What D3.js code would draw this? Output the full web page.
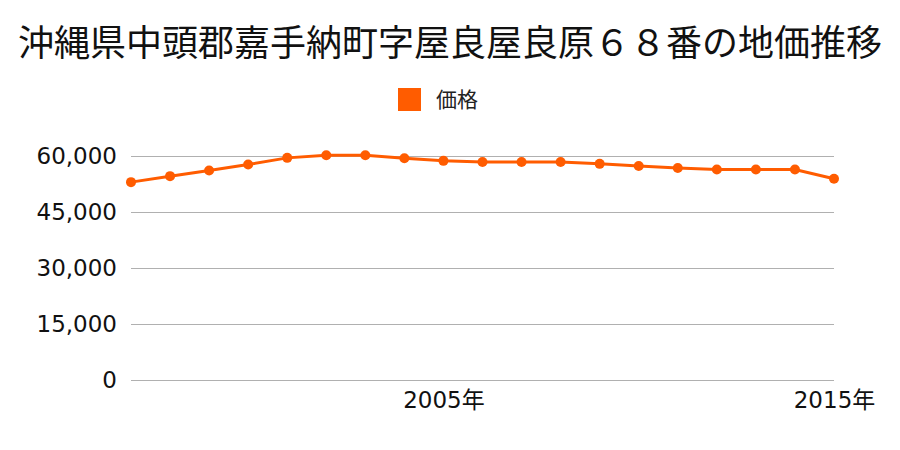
<!doctype html>
<html lang="ja">
<head>
<meta charset="utf-8" />
<title>地価推移</title>
<style>
  body { margin: 0; background: #fff; }
  svg { font-family: "Noto Sans CJK JP", sans-serif; }
</style>
</head>
<body>
<div id="chart"></div>
<script src="https://cdn.jsdelivr.net/npm/d3@7"></script>
<script>
// data
var years = [1997, 1998, 1999, 2000, 2001, 2002, 2003, 2004, 2005, 2006,
             2007, 2008, 2009, 2010, 2011, 2012, 2013, 2014, 2015];
var prices = [53000, 54600, 56100, 57700, 59500, 60200, 60200, 59400, 58700, 58400,
              58400, 58400, 57900, 57300, 56800, 56400, 56400, 56400, 53900];
var yTicks = [0, 15000, 30000, 45000, 60000];
var xLabels = [2005, 2015];
var title = "沖縄県中頭郡嘉手納町字屋良屋良原６８番の地価推移";
var seriesName = "価格";

var W = 900, H = 450;
var color = "#ff5c00";
var numFont = "'DejaVu Sans', 'Noto Sans CJK JP', sans-serif";

var svg = d3.select("#chart").append("svg")
  .attr("width", W).attr("height", H);

var x = d3.scaleLinear().domain([1997, 2015]).range([131, 834]);
var y = d3.scaleLinear().domain([0, 60000]).range([380, 156]);

// title
svg.append("text")
  .attr("x", W / 2).attr("y", 56)
  .attr("text-anchor", "middle")
  .attr("font-size", 36)
  .attr("fill", "#111")
  .text(title);

// legend
svg.append("rect")
  .attr("x", 398).attr("y", 88).attr("width", 23).attr("height", 23)
  .attr("fill", color);
svg.append("text")
  .attr("x", 436).attr("y", 107)
  .attr("font-size", 21).attr("fill", "#222")
  .text(seriesName);

// gridlines + y labels
var yAxis = d3.axisLeft(y)
  .tickValues(yTicks)
  .tickSize(-(834 - 131))
  .tickPadding(14)
  .tickFormat(d3.format(","));
var gy = svg.append("g")
  .attr("transform", "translate(131,0)")
  .call(yAxis);
gy.select(".domain").remove();
gy.selectAll(".tick line").attr("stroke", "#b0b0b0");
gy.selectAll(".tick text")
  .attr("font-size", 23)
  .attr("fill", "#111")
  .attr("font-family", numFont);

// x labels
var xAxis = d3.axisBottom(x)
  .tickValues(xLabels)
  .tickSize(0)
  .tickPadding(12)
  .tickFormat(function (d) { return d + "年"; });
var gx = svg.append("g")
  .attr("transform", "translate(0,380)")
  .call(xAxis);
gx.select(".domain").remove();
gx.selectAll(".tick text")
  .attr("font-size", 23)
  .attr("fill", "#111")
  .attr("font-family", numFont);

// line
var line = d3.line()
  .x(function (d, i) { return x(years[i]); })
  .y(function (d) { return y(d); });

svg.append("path")
  .datum(prices)
  .attr("d", line)
  .attr("fill", "none")
  .attr("stroke", color)
  .attr("stroke-width", 3);

svg.selectAll("circle.pt")
  .data(prices)
  .enter().append("circle")
  .attr("class", "pt")
  .attr("cx", function (d, i) { return x(years[i]); })
  .attr("cy", function (d) { return y(d); })
  .attr("r", 5)
  .attr("fill", color);
</script>
</body>
</html>
